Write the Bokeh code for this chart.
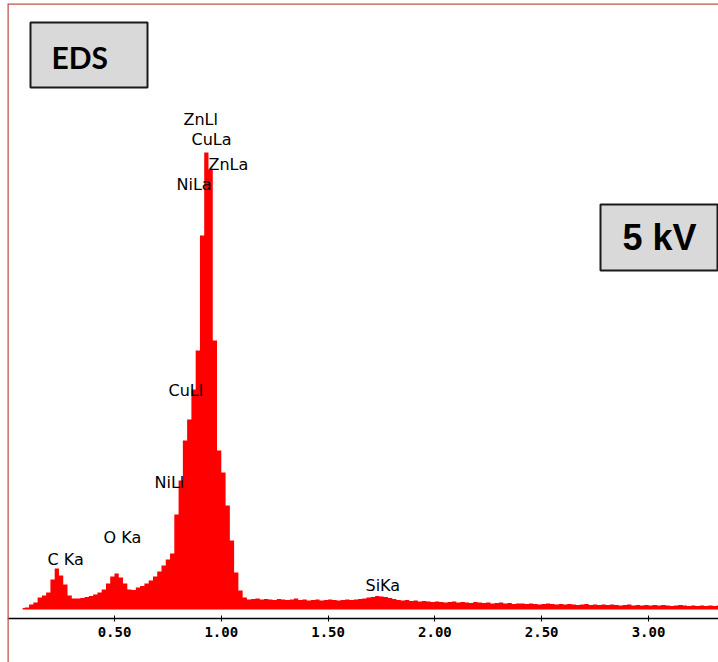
import numpy as np
from bokeh.plotting import figure
from bokeh.models import (Range1d, LinearAxis, FixedTicker, NumeralTickFormatter,
                          Span, BoxAnnotation, Label, ColumnDataSource)
from bokeh.embed import file_html
from bokeh.resources import INLINE

# ---------------- data ----------------
bin_width = 0.02  # keV
first_center = 0.07  # keV
counts = [
    15, 20, 50, 70, 120, 140, 170, 300, 410, 340,          # 0.07 - 0.25
    250, 140, 110, 110, 115, 125, 135, 150, 170, 200,      # 0.27 - 0.45
    260, 330, 360, 320, 260, 200, 195, 220, 235, 260,      # 0.47 - 0.65
    290, 330, 380, 440, 500, 560, 950, 1290, 1690, 1900,   # 0.67 - 0.85
    2200, 2590, 3740, 4570, 4400, 2690, 1590, 1370, 1040, 690,  # 0.87 - 1.05
    370, 190, 120, 100,                                    # 1.07 - 1.13
    105, 110, 100, 105, 100, 95, 105, 100, 95, 100,        # 1.15 - 1.33
    110, 95, 100, 90, 95, 100, 90, 95, 100, 95,            # 1.35 - 1.53
    90, 95, 100, 95, 100, 105, 110, 120, 125, 135,         # 1.55 - 1.73
    130, 125, 115, 105, 95, 90, 95, 85, 90, 80,            # 1.75 - 1.93
    85, 80, 75, 80, 75, 70, 75, 80, 70, 75,                # 1.95 - 2.13
    70, 65, 75, 70, 65, 70, 60, 65, 70, 60,                # 2.15 - 2.33
    65, 55, 60, 60, 55, 60, 55, 50, 55, 60,                # 2.35 - 2.53
    55, 50, 55, 50, 55, 50, 45, 50, 55, 45,                # 2.55 - 2.73
    50, 45, 50, 45, 50, 45, 40, 45, 50, 40,                # 2.75 - 2.93
    45, 40, 45, 40, 45, 40, 45, 40, 35, 40,                # 2.95 - 3.13
    45, 40, 35, 40, 35, 40, 35, 40, 35, 40,                # 3.15 - 3.33
]
energy = np.round(first_center + bin_width * np.arange(len(counts)), 3)

tick_values = [0.5, 1.0, 1.5, 2.0, 2.5, 3.0]

peak_labels = ["ZnLl", "CuLa", "ZnLa", "NiLa", "CuLl", "NiLl", "C Ka", "O Ka", "SiKa"]

# ---------------- pixel <-> data helpers (layout only) ----------------
PX0, PX_PER_KEV = 7.2, 213.6
BASE_PY, PER_PX = 609.0, 10.0


def kev(px):
    return (px - PX0) / PX_PER_KEV


def cnt(py):
    return (BASE_PY - py) * PER_PX


W, H = 718, 662
LEFT, TOP = 7, 3

p = figure(width=W, height=H, output_backend="svg", toolbar_location=None,
           x_axis_type=None, y_axis_type=None,
           x_range=Range1d(kev(LEFT), kev(W)), y_range=Range1d(cnt(H), cnt(TOP)),
           min_border_left=LEFT, min_border_right=0, min_border_top=TOP, min_border_bottom=0)
p.outline_line_color = None
p.xgrid.visible = False
p.ygrid.visible = False
p.background_fill_color = "white"
p.border_fill_color = "white"

src = ColumnDataSource(dict(energy=energy, counts=counts, zero=[0] * len(counts)))
p.varea_step(x="energy", y1="zero", y2="counts", step_mode="center", source=src,
             fill_color="#FF0000")

ax = LinearAxis(fixed_location=cnt(617.5))
ax.ticker = FixedTicker(ticks=tick_values, minor_ticks=[])
ax.formatter = NumeralTickFormatter(format="0.00")
ax.axis_line_color = "black"
ax.axis_line_width = 1.5
ax.major_tick_in = 3
ax.major_tick_out = 3
ax.major_tick_line_color = "black"
ax.major_tick_line_width = 1
ax.minor_tick_line_color = None
ax.major_label_text_font = "DejaVu Sans Mono"
ax.major_label_text_font_style = "bold"
ax.major_label_text_font_size = "14px"
ax.major_label_text_color = "black"
ax.major_label_standoff = 6
p.add_layout(ax, "below")

# red frame (left and top)
frame_color = "#C0504D"
p.add_layout(Span(location=kev(LEFT), dimension="height", line_color=frame_color, line_width=2.5))
p.add_layout(Span(location=cnt(TOP), dimension="width", line_color=frame_color, line_width=2.5))

# peak labels
label_pos = [(183, 109), (191, 129), (208, 154), (176, 174), (168, 380),
             (154, 472), (47, 549), (103, 527), (365, 575)]
for txt, (lx, ly) in zip(peak_labels, label_pos):
    p.add_layout(Label(x=kev(lx), y=cnt(ly), text=txt, text_align="left", text_baseline="top",
                       text_font="DejaVu Sans", text_font_size="16px", text_color="black"))

# boxes
p.add_layout(BoxAnnotation(left=kev(30), right=kev(147), top=cnt(22), bottom=cnt(87),
                           fill_color="#D9D9D9", fill_alpha=1.0,
                           line_color="#1A1A1A", line_width=2, line_alpha=1.0))
p.add_layout(Label(x=kev(51), y=cnt(56), text="EDS", text_align="left", text_baseline="middle",
                   text_font="Lato", text_font_style="bold", text_font_size="30px",
                   text_color="black"))
p.add_layout(BoxAnnotation(left=kev(600), right=kev(717), top=cnt(204), bottom=cnt(270),
                           fill_color="#D9D9D9", fill_alpha=1.0,
                           line_color="#1A1A1A", line_width=2, line_alpha=1.0))
p.add_layout(Label(x=kev(622), y=cnt(237), text="5 kV", text_align="left", text_baseline="middle",
                   text_font="Liberation Sans", text_font_style="bold", text_font_size="36px",
                   text_color="black"))

open("out.html", "w").write(file_html(p, INLINE))
